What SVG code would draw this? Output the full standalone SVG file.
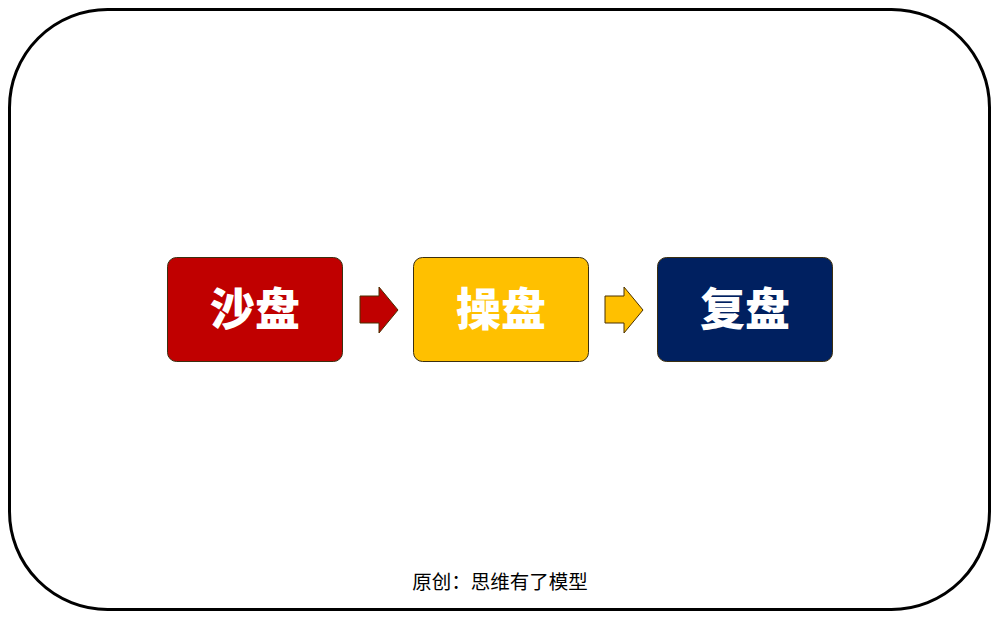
<svg xmlns="http://www.w3.org/2000/svg" width="1000" height="619" viewBox="0 0 1000 619">
<style>
.box{stroke:#3b2f10;stroke-width:1}
.lbl{font-family:"Noto Sans CJK SC","Noto Sans",sans-serif;font-weight:900;font-size:45px;fill:#ffffff;text-anchor:middle}
.arr{stroke:#4a3000;stroke-width:1}
.foot{font-family:"Noto Sans CJK SC","Noto Sans",sans-serif;font-size:19.5px;fill:#000000;text-anchor:middle}
</style>
<rect x="0" y="0" width="1000" height="619" fill="#ffffff"/>
<rect x="9.5" y="9.5" width="980" height="600" rx="98" ry="98" fill="#ffffff" stroke="#000000" stroke-width="3"/>
<g id="node-shapan">
<rect class="box" x="167.5" y="257.5" width="175" height="104" rx="9" fill="#c00000"/>
<text class="lbl" x="255" y="326">沙盘</text>
</g>
<g id="node-caopan">
<rect class="box" x="413.5" y="257.5" width="175" height="104" rx="9" fill="#ffc000"/>
<text class="lbl" x="501" y="326">操盘</text>
</g>
<g id="node-fupan">
<rect class="box" x="657.5" y="257.5" width="175" height="104" rx="9" fill="#002060"/>
<text class="lbl" x="745" y="326">复盘</text>
</g>
<g id="connectors">
<polygon class="arr" points="360,296 379,296 379,287 398,310 379,333 379,323 360,323" fill="#c00000"/>
<polygon class="arr" points="605,296 624,296 624,287 643,310 624,333 624,323 605,323" fill="#ffc000"/>
</g>
<text class="foot" x="500" y="589">原创：思维有了模型</text>
</svg>
